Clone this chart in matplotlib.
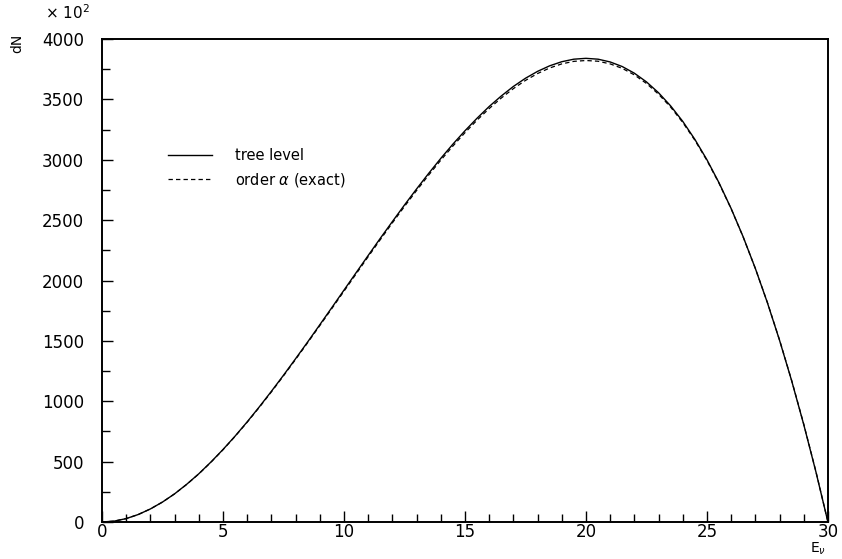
import numpy as np
import matplotlib
matplotlib.use('Agg')
import matplotlib.pyplot as plt
from matplotlib.ticker import MultipleLocator

# ---Neutrino energy grid (read every 0.5)
E = [0.0, 0.5, 1.0, 1.5, 2.0, 2.5, 3.0, 3.5, 4.0, 4.5,
     5.0, 5.5, 6.0, 6.5, 7.0, 7.5, 8.0, 8.5, 9.0, 9.5,
     10.0, 10.5, 11.0, 11.5, 12.0, 12.5, 13.0, 13.5, 14.0, 14.5,
     15.0, 15.5, 16.0, 16.5, 17.0, 17.5, 18.0, 18.5, 19.0, 19.5,
     20.0, 20.5, 21.0, 21.5, 22.0, 22.5, 23.0, 23.5, 24.0, 24.5,
     25.0, 25.5, 26.0, 26.5, 27.0, 27.5, 28.0, 28.5, 29.0, 29.5, 30.0]

# ---tree level (x 10^2)
tree = [0, 7, 28, 62, 108, 165, 233, 312, 399, 496,
        600, 711, 829, 953, 1082, 1215, 1352, 1491, 1633, 1776,
        1920, 2064, 2207, 2349, 2488, 2625, 2758, 2887, 3011, 3129,
        3240, 3344, 3441, 3528, 3607, 3675, 3732, 3778, 3812, 3833,
        3840, 3833, 3810, 3772, 3717, 3645, 3555, 3446, 3318, 3169,
        3000, 2809, 2596, 2360, 2100, 1815, 1505, 1170, 807, 418, 0]

# ---order alpha (exact)
order_a = [0, 7, 28, 62, 108, 165, 233, 311, 398, 494,
           598, 709, 826, 949, 1077, 1210, 1346, 1485, 1626, 1768,
           1911, 2054, 2197, 2338, 2477, 2613, 2745, 2873, 2996, 3113,
           3224, 3328, 3424, 3511, 3589, 3657, 3714, 3760, 3794, 3815,
           3822, 3816, 3794, 3757, 3703, 3632, 3543, 3436, 3309, 3162,
           2994, 2805, 2594, 2359, 2100, 1817, 1508, 1173, 811, 421, 0]

plt.rcParams['font.family'] = ['DejaVu Sans']

fig = plt.figure(figsize=(8.42, 5.59), dpi=100)
ax = fig.add_axes([0.1211, 0.0662, 0.8622, 0.864])

ax.plot(E, tree, '-', color='black', lw=1.0, label='tree level')
ax.plot(E, order_a, '--', color='black', lw=0.9, dashes=(3.5, 2.5),
        label=r'order $\alpha$ (exact)')

ax.set_xlim(0, 30)
ax.set_ylim(0, 4000)
ax.xaxis.set_major_locator(MultipleLocator(5))
ax.xaxis.set_minor_locator(MultipleLocator(1))
ax.yaxis.set_major_locator(MultipleLocator(500))
ax.yaxis.set_minor_locator(MultipleLocator(250))
ax.tick_params(which='major', direction='in', length=8, width=1.0,
               labelsize=12, pad=1)
ax.tick_params(which='minor', direction='in', length=6, width=1.0)
ax.tick_params(axis='y', which='major', pad=13)
ax.tick_params(top=False, right=False)
for sp in ax.spines.values():
    sp.set_linewidth(1.4)

fig.text(0.053, 0.977, r'$\times$ 10$^2$', fontsize=11, ha='left', va='center')
fig.text(0.021, 0.922, 'dN', fontsize=10, rotation=90, ha='center', va='center')
fig.text(0.971, 0.004, r'E$_\nu$', fontsize=10, ha='center', va='bottom')

ax.legend(loc='upper left', bbox_to_anchor=(0.091, 0.775), frameon=False,
          fontsize=10.5, handlelength=3.0, handletextpad=1.6,
          labelspacing=0.55, borderpad=0, borderaxespad=0)

fig.savefig('out.png', dpi=100)
